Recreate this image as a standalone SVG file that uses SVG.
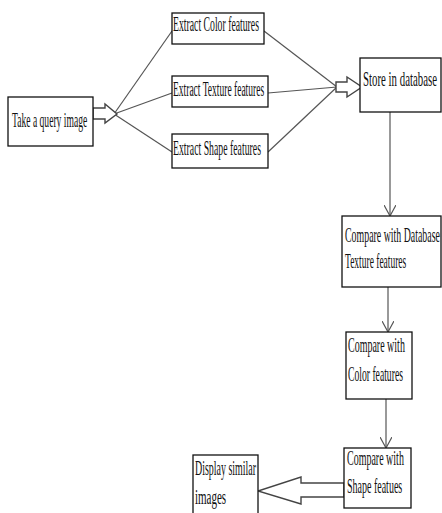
<svg xmlns="http://www.w3.org/2000/svg" width="442" height="513" viewBox="0 0 442 513">
<style>
.box{fill:#fff;stroke:#111;stroke-width:1.3}
.t{font-family:"Liberation Serif","Times New Roman",serif;font-size:20px;fill:#111}
.ln{stroke:#555;stroke-width:1.2;fill:none}
.blk{fill:#fff;stroke:#444;stroke-width:1.4;stroke-linejoin:miter}
</style>
<defs>
<marker id="v" viewBox="0 0 12 12" refX="11" refY="6" markerWidth="12" markerHeight="12" markerUnits="userSpaceOnUse" orient="auto">
<path d="M0,0 L11,6 L0,12" fill="none" stroke="#555" stroke-width="1.2"/>
</marker>
</defs>
<rect width="442" height="513" fill="#fff"/>
<g id="connectors">
<line class="ln" x1="114" y1="114" x2="172" y2="31"/>
<line class="ln" x1="114" y1="114" x2="172" y2="93"/>
<line class="ln" x1="114" y1="114" x2="172" y2="152"/>
<line class="ln" x1="264" y1="31" x2="337" y2="87"/>
<line class="ln" x1="268" y1="93" x2="337" y2="87"/>
<line class="ln" x1="268" y1="152" x2="337" y2="87"/>
<polygon class="blk" points="93,108 105,108 105,104 117,114 105,123 105,119 93,119"/>
<polygon class="blk" points="336,82 347,82 347,77 362,87 347,97 347,92 336,92"/>
<line class="ln" x1="390" y1="112" x2="390" y2="216" marker-end="url(#v)"/>
<line class="ln" x1="388" y1="287" x2="388" y2="332" marker-end="url(#v)"/>
<line class="ln" x1="386" y1="399" x2="386" y2="448" marker-end="url(#v)"/>
<polygon class="blk" points="344,483 301,483 301,477 258,491 301,504 301,497 344,497"/>
</g>
<g id="query">
<rect class="box" x="8" y="97" width="85" height="49"/>
<text class="t" transform="translate(12,127) scale(0.48,1)">Take a query image</text>
</g>
<g id="color">
<rect class="box" x="172" y="13" width="92" height="31"/>
<text class="t" transform="translate(173,31) scale(0.487,1)">Extract Color features</text>
</g>
<g id="texture">
<rect class="box" x="172" y="76" width="96" height="31"/>
<text class="t" transform="translate(173,96) scale(0.476,1)">Extract Texture features</text>
</g>
<g id="shape">
<rect class="box" x="172" y="134" width="96" height="34"/>
<text class="t" transform="translate(173,155) scale(0.489,1)">Extract Shape features</text>
</g>
<g id="store">
<rect class="box" x="360" y="58" width="81" height="54"/>
<text class="t" transform="translate(363,86) scale(0.542,1)">Store in database</text>
</g>
<g id="compare-db">
<rect class="box" x="342" y="216" width="99" height="71"/>
<text class="t" transform="translate(345,242) scale(0.494,1)">Compare with Database</text>
<text class="t" transform="translate(345,268) scale(0.475,1)">Texture features</text>
</g>
<g id="compare-color">
<rect class="box" x="346" y="332" width="66" height="67"/>
<text class="t" transform="translate(348,352) scale(0.5,1)">Compare with</text>
<text class="t" transform="translate(348,381) scale(0.483,1)">Color features</text>
</g>
<g id="compare-shape">
<rect class="box" x="344" y="448" width="67" height="60"/>
<text class="t" transform="translate(347,465) scale(0.5,1)">Compare with</text>
<text class="t" transform="translate(347,493) scale(0.5,1)">Shape featues</text>
</g>
<g id="display">
<rect class="box" x="193" y="455" width="65" height="70"/>
<text class="t" transform="translate(195,475) scale(0.497,1)">Display similar</text>
<text class="t" transform="translate(195,504) scale(0.55,1)">images</text>
</g>
</svg>
